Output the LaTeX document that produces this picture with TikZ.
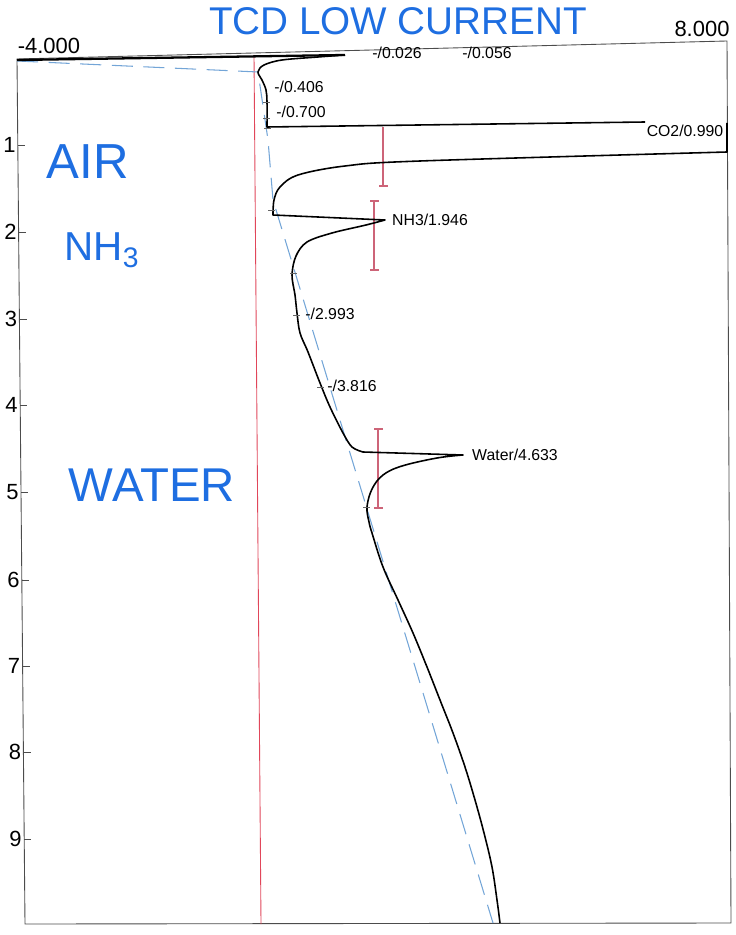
\documentclass[tikz,border=0pt]{standalone}
\usepackage{fontspec}
\setmainfont{Liberation Sans}
\usetikzlibrary{arrows}
\definecolor{pen}{RGB}{30,110,225}
\definecolor{zeroc}{RGB}{225,70,90}
\definecolor{barc}{RGB}{205,100,120}
\definecolor{basec}{RGB}{115,165,215}
\tikzstyle{frame} = [draw=black!70, line width=0.5pt]
\tikzstyle{trace} = [draw=black, line width=0.9pt, line join=round]
\tikzstyle{baseline} = [draw=basec, line width=0.6pt, dash pattern=on 12pt off 6pt]
\tikzstyle{zeroline} = [draw=zeroc, line width=0.5pt]
\tikzstyle{errbar} = [draw=barc, line width=0.6pt]
\tikzstyle{peaktick} = [draw=black!60, line width=0.4pt]
\tikzstyle{peaklabel} = [font=\fontsize{9}{11}\selectfont, inner sep=1pt]
\tikzstyle{axislabel} = [font=\fontsize{12.5}{14}\selectfont, inner sep=0pt]
\tikzstyle{note} = [text=pen, inner sep=0pt]

\begin{document}
\begin{tikzpicture}[x=0.02cm, y=-0.02cm]
                \useasboundingbox (0,0) rectangle (735,935);

                \draw[frame] (17,59) -- (727,41) -- (731,923) -- (25,924) -- cycle;
                \foreach \t/\y/\xl in {1/145/18, 2/232/19, 3/319/19.5, 4/405/20, 5/492/21, 6/580/22, 7/666/22.5, 8/752/23.5, 9/839/24}
                {
                    \draw[frame] (\xl,\y) -- ++(7,0);
                    \node (ylab\t) [axislabel, anchor=east] at (\xl-2,\y) {\t};
                }
                \node (xmin) [axislabel] at (49,46) {-4.000};
                \node (xmax) [axislabel] at (702,29) {8.000};

                \draw[zeroline] (254,55) -- (261,924);
                \draw[baseline] (17,61) -- (258,72) -- (268,140) -- (273,200) -- (493,923);

                \draw[errbar] (383,127) -- (383,186) (379,186) -- (388,186);
                \draw[errbar] (374,201) -- (374,270) (370,201) -- (379,201) (370,270) -- (379,270);
                \draw[errbar] (378,429) -- (378,508) (374,429) -- (383,429) (374,508) -- (383,508);

                \draw[line width=1.3pt] (17,60) -- (345,55);
                \draw[trace] (345,55)
                    -- plot[smooth, tension=0.55] coordinates {(345,55) (318,57) (282,60) (264,65) (258,72) (262,80) (266,90) (267,102) (267,127)}
                    -- (645,122) (727,123) -- (727,152)
                    -- plot[smooth, tension=0.55] coordinates {(727,152) (420,161) (345,166) (298,175) (280,187) (274,200) (273,215)}
                    -- (385,220)
                    -- plot[smooth, tension=0.55] coordinates {(385,220) (366,225) (332,233) (307,242) (296,256) (292,275) (295,295) (297,313) (300,333) (308,352) (320,383) (330,407) (343,433) (352,447) (363,452)}
                    -- (463,455)
                    -- plot[smooth, tension=0.6] coordinates {(463,455) (437,458) (402,466) (383,475) (372,489) (367,507) (369,522) (372,533) (383,567) (398,600) (413,633) (427,667) (440,700) (453,733) (465,767) (475,800) (484,833) (492,867) (497,900) (500,923)};
                \foreach \a/\b in {263/102, 263/118, 264/128, 268/210, 290/273, 293/315, 317/387, 363/507}
                    \draw[peaktick] (\a,\b) -- ++(7,0);

                \node (p026) [peaklabel] at (397,53) {-/0.026};
                \node (p056) [peaklabel] at (487,53) {-/0.056};
                \node (p406) [peaklabel] at (299,87) {-/0.406};
                \node (p700) [peaklabel] at (301,112) {-/0.700};
                \node (co2) [peaklabel] at (685,131) {CO2/0.990};
                \node (nh3) [peaklabel] at (430,220) {NH3/1.946};
                \node (p2993) [peaklabel] at (330,314) {-/2.993};
                \node (p3816) [peaklabel] at (352,386) {-/3.816};
                \node (water) [peaklabel] at (515,455) {Water/4.633};

                \node (title) [note, font=\fontsize{22}{25}\selectfont] at (398,21) {TCD LOW CURRENT};
                \node (air) [note, font=\fontsize{28}{30}\selectfont] at (88,162) {AIR};
                \node (ammonia) [note, font=\fontsize{23}{26}\selectfont] at (102,250) {NH\textsubscript{3}};
                \node (wat) [note, font=\fontsize{27}{30}\selectfont] at (152,485) {WATER};
            \end{tikzpicture}
\end{document}
